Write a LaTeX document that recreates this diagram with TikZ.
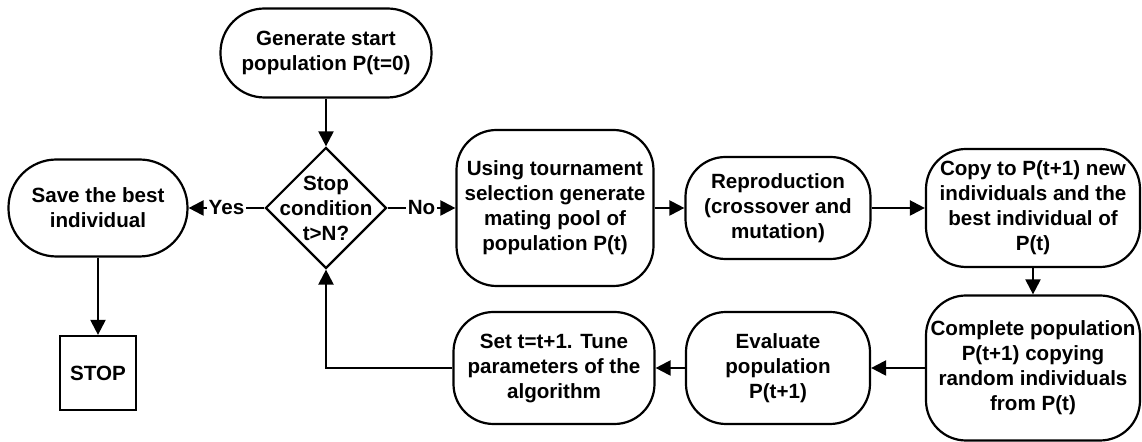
\documentclass[tikz,border=0pt]{standalone}
\usepackage{fontspec}
\setmainfont{Liberation Sans}
\usetikzlibrary{positioning,shapes.geometric,arrows.meta}

\tikzset{
  terminal/.style={draw,rounded corners=22pt,align=center,inner sep=1pt},
  process/.style={draw,rounded corners=20pt,align=center,inner sep=1pt},
  decision/.style={draw,diamond,aspect=1,minimum size=60.5pt,inner sep=0pt},
  stopbox/.style={draw,align=center,minimum width=38pt,minimum height=37pt},
  answer/.style={fill=white,inner sep=1pt}
}

\begin{document}
\begin{tikzpicture}[on grid,line width=1.1pt,>={Triangle[length=7.5pt,width=7.5pt]},
    every node/.style={font=\fontsize{10.3pt}{12.5pt}\selectfont\bfseries}]
    \useasboundingbox (-163pt,104pt) rectangle (408pt,-117pt);
    \node[decision] (cond) {};
    \node[align=center] (condtext) at (cond) {Stop\\condition\\t>N?};
    \node[terminal,minimum width=105.5pt,minimum height=44.5pt] (gen) [above=77.5pt of cond] {Generate start\\population P(t=0)};
    \node[terminal,rounded corners=24pt,minimum width=89.5pt,minimum height=48.5pt] (save) [left=114pt of cond] {Save the best\\individual};
    \node[stopbox] (stop) [below=82.5pt of save] {STOP};
    \node[process,minimum width=98.5pt,minimum height=78pt] (sel) [right=114.5pt of cond] {Using tournament\\selection generate\\mating pool of\\population P(t)};
    \node[process,minimum width=92.5pt,minimum height=51pt] (repro) [right=111.5pt of sel] {Reproduction\\(crossover and\\mutation)};
    \node[process,minimum width=107pt,minimum height=59pt] (copy) [right=127.5pt of repro] {Copy to P(t+1) new\\individuals and the\\best individual of\\P(t)};
    \node[process,minimum width=107pt,minimum height=72.5pt] (compl) [below=80pt of copy] {Complete population\\P(t+1) copying\\random individuals\\from P(t)};
    \node[process,minimum width=92pt,minimum height=56pt] (eval) [left=127.5pt of compl] {Evaluate\\population\\P(t+1)};
    \node[process,minimum width=100.5pt,minimum height=56pt] (tune) [left=112pt of eval] {Set t=t+1. Tune\\parameters of the\\algorithm};
    \path[->]
    (gen) edge (cond)
    (cond) edge node[answer] {Yes} (save)
    (cond) edge node[answer] {No} (sel)
    (save) edge (stop)
    (sel) edge (repro)
    (repro) edge (copy)
    (copy) edge (compl)
    (compl) edge (eval)
    (eval) edge (tune);
    \draw[->] (tune) -| (cond);
\end{tikzpicture}
\end{document}
